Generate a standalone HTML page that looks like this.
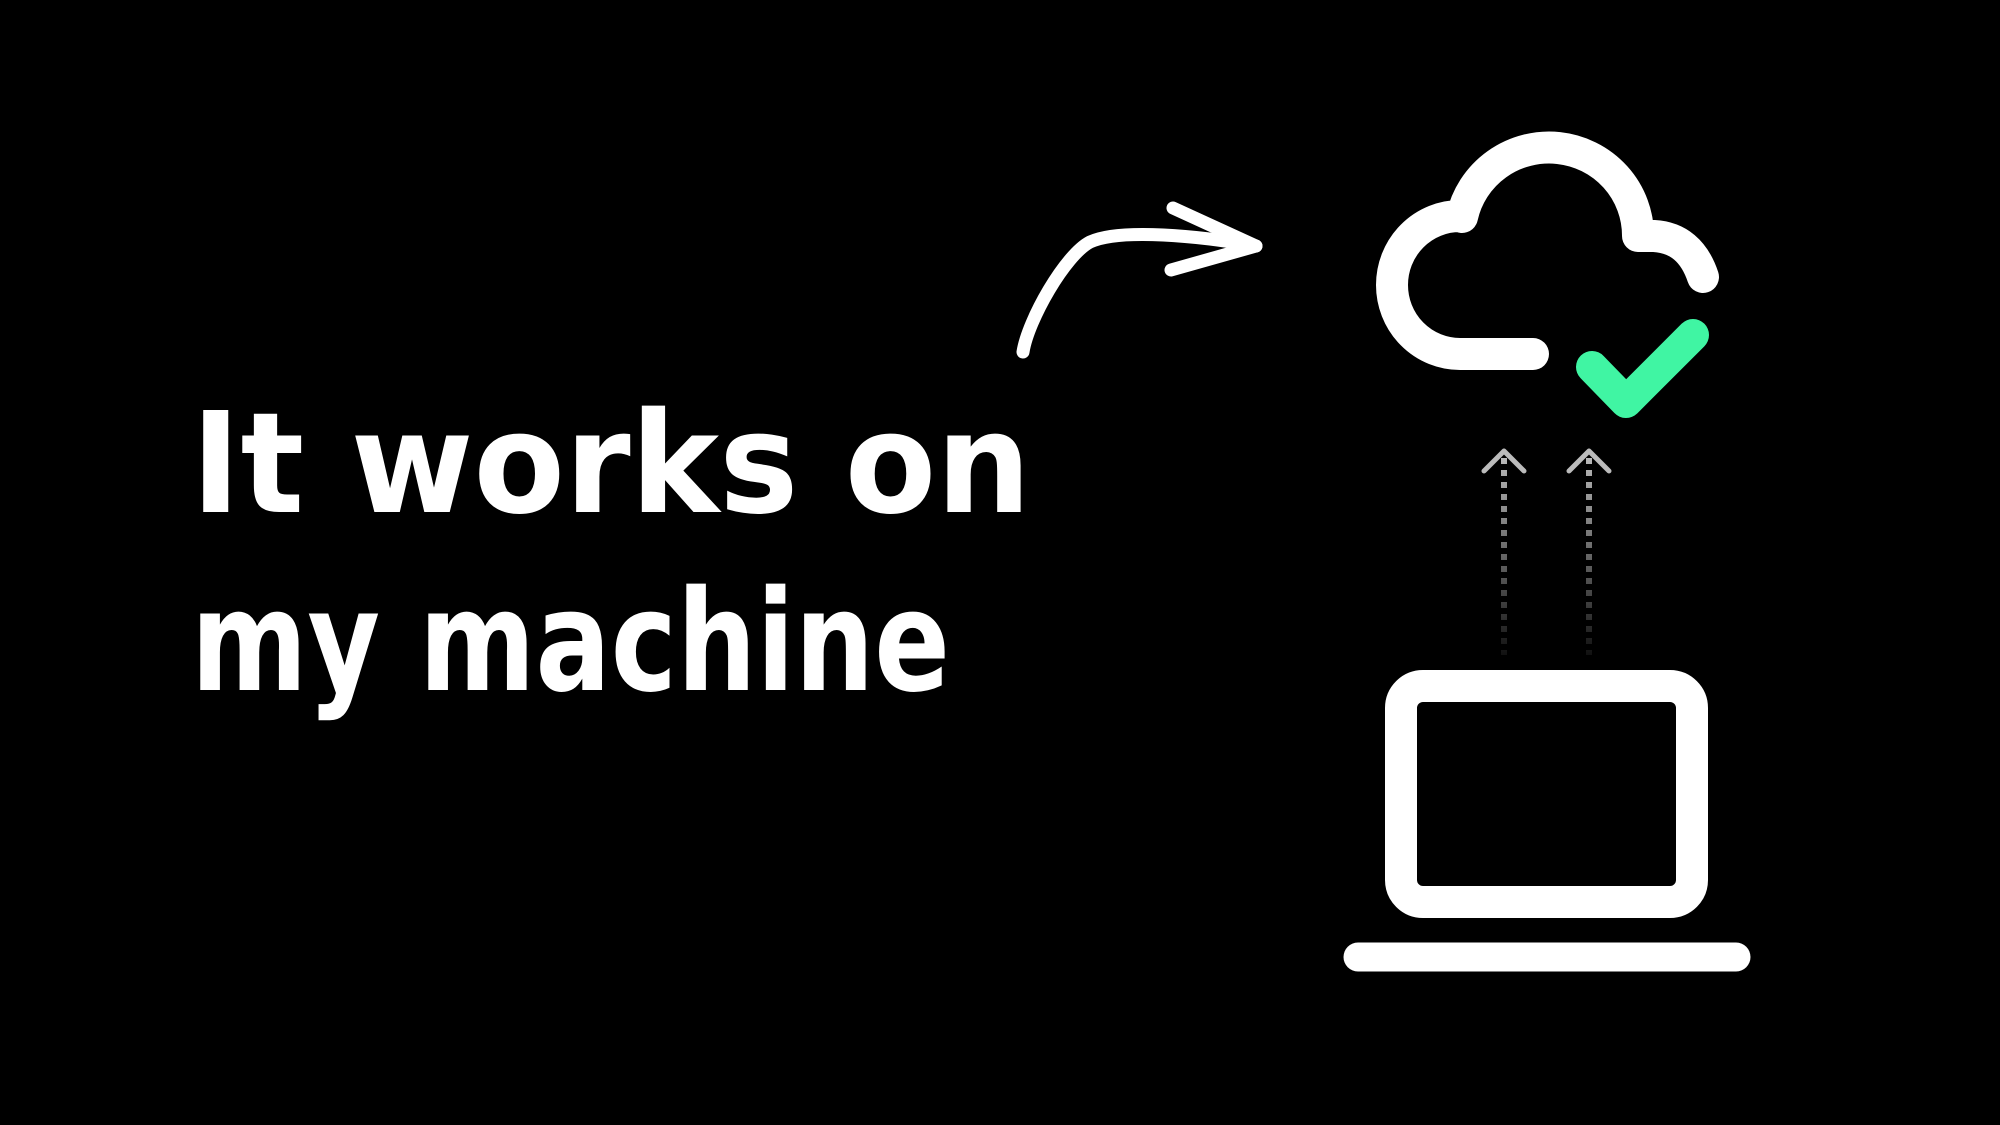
<!DOCTYPE html>
<html><head><meta charset="utf-8"><style>
html,body{margin:0;padding:0;background:#000;width:2000px;height:1125px;overflow:hidden}
</style></head><body>
<svg width="2000" height="1125" viewBox="0 0 2000 1125" xmlns="http://www.w3.org/2000/svg">
<defs>
<linearGradient id="fade" x1="0" y1="455" x2="0" y2="655" gradientUnits="userSpaceOnUse">
<stop offset="0" stop-color="#bbb"/><stop offset="1" stop-color="#111"/>
</linearGradient>
</defs>
<rect width="2000" height="1125" fill="#000"/>
<g font-family="'DejaVu Sans','Liberation Sans',sans-serif" fill="#fff" font-size="140" font-weight="bold">
<text x="191" y="512" textLength="840" lengthAdjust="spacingAndGlyphs">It works on</text>
<text x="191" y="690" textLength="759" lengthAdjust="spacingAndGlyphs">my machine</text>
</g>
<!-- curved arrow -->
<g fill="none" stroke="#fff" stroke-width="13" stroke-linecap="round" stroke-linejoin="round">
<path d="M1023,352 C1028,320 1065,255 1090,242 C1120,228 1200,236 1256,246"/>
<path d="M1173,208 L1256,246 L1171,270"/>
</g>
<!-- cloud -->
<path d="M1533,354 L1460,354 A68,69 0 0 1 1460,216 L1462,217 A89,88 0 0 1 1638,236 L1654,236 Q1690,238 1703,277" fill="none" stroke="#fff" stroke-width="32" stroke-linecap="round" stroke-linejoin="round"/>
<!-- check -->
<path d="M1592,367 L1626,402 L1693,335" fill="none" stroke="#40f5a3" stroke-width="32" stroke-linecap="round" stroke-linejoin="round"/>
<!-- dotted arrows -->
<g fill="none" stroke="url(#fade)" stroke-width="6">
<line x1="1504" y1="458" x2="1504" y2="655" stroke-dasharray="6,6"/>
<line x1="1589" y1="458" x2="1589" y2="655" stroke-dasharray="6,6"/>
</g>
<g fill="none" stroke="#bbb" stroke-width="5" stroke-linecap="round" stroke-linejoin="round">
<path d="M1484,471 L1504,451 L1524,471"/>
<path d="M1569,471 L1589,451 L1609,471"/>
</g>
<!-- laptop -->
<rect x="1401" y="686" width="291" height="216" rx="22" fill="none" stroke="#fff" stroke-width="32"/>
<line x1="1358" y1="957" x2="1736" y2="957" stroke="#fff" stroke-width="29" stroke-linecap="round"/>
</svg>
</body></html>
